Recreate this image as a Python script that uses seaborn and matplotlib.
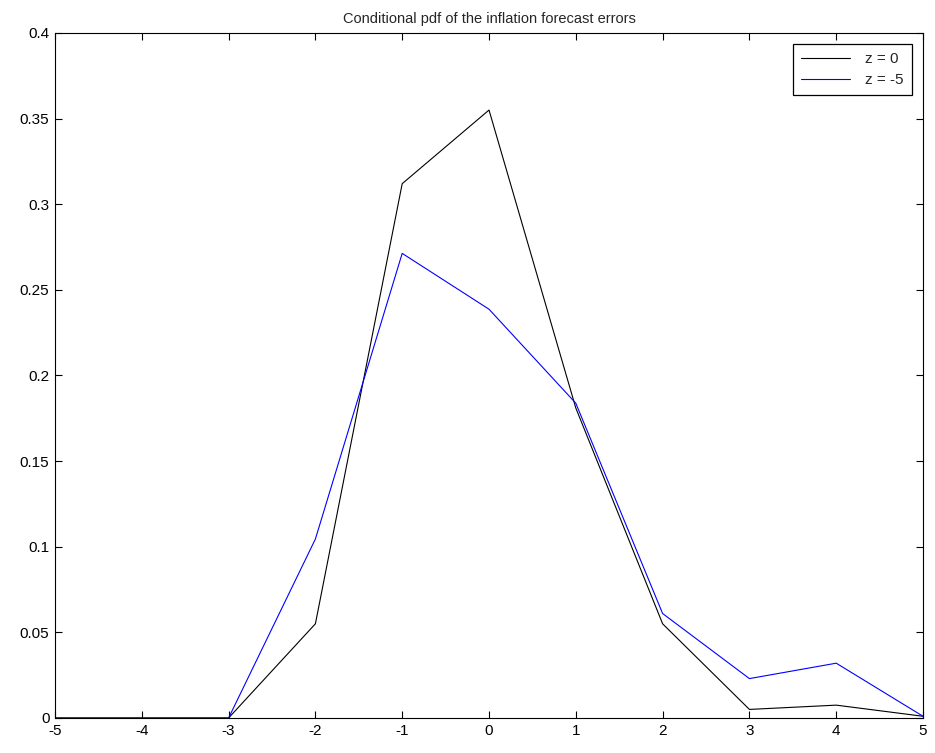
import pandas as pd
import matplotlib
matplotlib.use("Agg")
import matplotlib.pyplot as plt
import seaborn as sns

# inflation forecast error grid and conditional densities
errors = [-5, -4, -3, -2, -1, 0, 1, 2, 3, 4, 5]
pdf_z0 = [0, 0, 0, 0.055, 0.312, 0.355, 0.181, 0.055, 0.005, 0.0075, 0.001]
pdf_zm5 = [0, 0, 0, 0.1045, 0.2713, 0.2387, 0.1838, 0.061, 0.023, 0.032, 0.001]
labels = ["z = 0", "z = -5"]

df = pd.concat([
    pd.DataFrame({"x": errors, "pdf": pdf_z0, "z": labels[0]}),
    pd.DataFrame({"x": errors, "pdf": pdf_zm5, "z": labels[1]}),
])

sns.set_style("ticks")
plt.rcParams["font.family"] = ["Liberation Sans", "DejaVu Sans"]

fig = plt.figure(figsize=(9.35, 7.53), dpi=100)
ax = fig.add_axes([0.0588, 0.0465, 0.9284, 0.9097])

sns.lineplot(data=df, x="x", y="pdf", hue="z", palette=["black", "blue"],
             linewidth=0.8, ax=ax, sort=False)

ax.set_xlim(-5, 5)
ax.set_ylim(0, 0.4)
ax.set_xticks(errors)
ax.set_xticklabels([str(v) for v in errors])
yt = [0, 0.05, 0.1, 0.15, 0.2, 0.25, 0.3, 0.35, 0.4]
ax.set_yticks(yt)
ax.set_yticklabels(["0", "0.05", "0.1", "0.15", "0.2", "0.25", "0.3", "0.35", "0.4"])
ax.tick_params(direction="in", top=True, right=True, length=5, width=0.8,
               labelsize=11, colors="black", pad=4)
for s in ax.spines.values():
    s.set_linewidth(0.8)
    s.set_color("black")
ax.set_xlabel("")
ax.set_ylabel("")
ax.set_title("Conditional pdf of the inflation forecast errors", fontsize=10.5, pad=7)

leg = ax.legend(loc="upper right", fontsize=11, frameon=True, fancybox=False,
                edgecolor="black", framealpha=1, handlelength=3.2,
                handletextpad=1.0, borderaxespad=0.7, borderpad=0.55,
                labelspacing=0.45)
leg.get_frame().set_linewidth(0.9)

fig.savefig("out.png", dpi=100)
